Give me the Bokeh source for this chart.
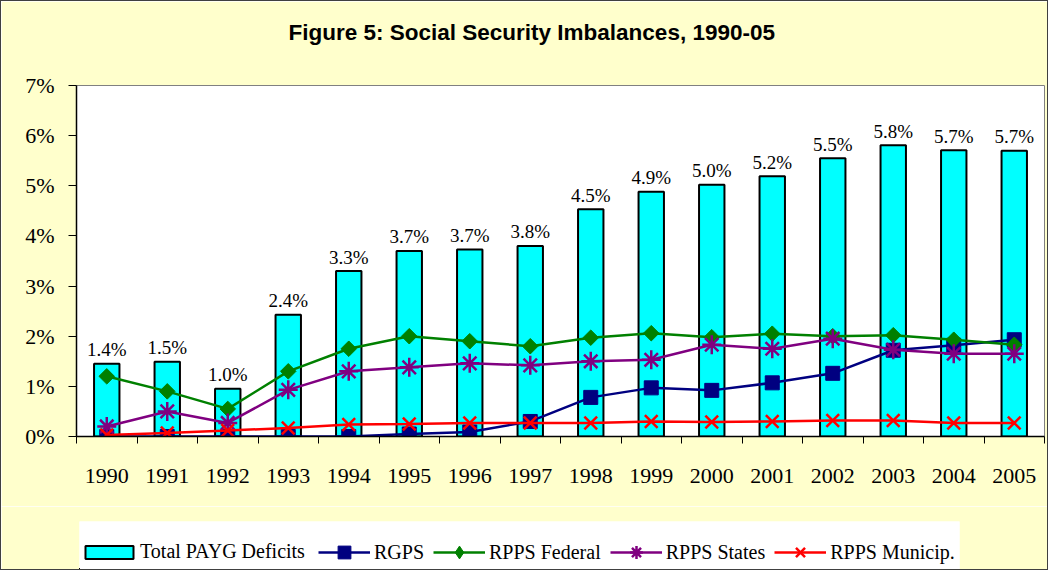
import numpy as np
from bokeh.plotting import figure
from bokeh.layouts import column
from bokeh.models import (Range1d, FixedTicker, ColumnDataSource, Legend, LegendItem, Title)
from bokeh.core.properties import value
from bokeh.embed import file_html
from bokeh.resources import INLINE

years = ["1990", "1991", "1992", "1993", "1994", "1995", "1996", "1997",
         "1998", "1999", "2000", "2001", "2002", "2003", "2004", "2005"]
total_payg = [1.45, 1.49, 0.95, 2.43, 3.30, 3.70, 3.73, 3.80,
              4.53, 4.88, 5.02, 5.19, 5.55, 5.81, 5.71, 5.70]
total_labels = ["1.4%", "1.5%", "1.0%", "2.4%", "3.3%", "3.7%", "3.7%", "3.8%",
                "4.5%", "4.9%", "5.0%", "5.2%", "5.5%", "5.8%", "5.7%", "5.7%"]
rgps = [0.00, 0.00, 0.00, 0.00, 0.00, 0.05, 0.09, 0.30,
        0.78, 0.97, 0.92, 1.07, 1.26, 1.72, 1.82, 1.93]
rpps_federal = [1.20, 0.90, 0.55, 1.30, 1.75, 2.00, 1.90, 1.80,
                1.97, 2.06, 1.98, 2.05, 2.00, 2.02, 1.93, 1.83]
rpps_states = [0.20, 0.50, 0.27, 0.93, 1.30, 1.38, 1.46, 1.42,
               1.50, 1.53, 1.83, 1.75, 1.95, 1.73, 1.65, 1.65]
rpps_municip = [0.03, 0.07, 0.12, 0.17, 0.24, 0.25, 0.27, 0.27,
                0.27, 0.30, 0.29, 0.30, 0.32, 0.32, 0.27, 0.27]
y_ticks = [0, 1, 2, 3, 4, 5, 6, 7]

x = np.arange(len(years)) + 0.5
src = ColumnDataSource(dict(x=x, total=total_payg, lab=total_labels, rgps=rgps,
                            fed=rpps_federal, states=rpps_states, mun=rpps_municip))

BG = "#FFFFCC"
W = 1046
p = figure(width=W, height=505, output_backend="svg", toolbar_location=None,
           x_range=Range1d(0, len(years)), y_range=Range1d(0, 7),
           min_border_left=75, min_border_right=3, min_border_top=84, min_border_bottom=70,
           background_fill_color="white", border_fill_color=BG)
p.frame_align = False

# spacer between the title and the plot area
p.add_layout(Title(text=" ", text_font_size="10px", standoff=28), "above")

p.title.text = "Figure 5: Social Security Imbalances, 1990-05"
p.title.align = "left"
p.title.offset = 212
p.title.text_font = "Liberation Sans"
p.title.text_font_style = "bold"
p.title.text_font_size = "22.5px"
p.title.text_color = "black"
p.title.standoff = 0

p.outline_line_color = "#808080"
p.outline_line_width = 1
p.xgrid.visible = False
p.ygrid.visible = False

# x axis: labels at centres, ticks at category boundaries
p.xaxis.ticker = FixedTicker(ticks=list(x), minor_ticks=list(np.arange(len(years) + 1)))
p.xaxis.major_label_overrides = {float(v): y for v, y in zip(x, years)}
p.xaxis.major_tick_out = 0
p.xaxis.major_tick_in = 0
p.xaxis.minor_tick_out = 7
p.xaxis.minor_tick_in = 0
p.xaxis.minor_tick_line_color = "black"
p.xaxis.major_label_standoff = 25
p.xaxis.axis_line_color = "black"
p.xaxis.axis_line_width = 1.5

p.yaxis.ticker = FixedTicker(ticks=y_ticks, minor_ticks=[])
p.yaxis.major_label_overrides = {t: f"{t}%" for t in y_ticks}
p.yaxis.major_tick_out = 8
p.yaxis.major_tick_in = 0
p.yaxis.minor_tick_out = 0
p.yaxis.minor_tick_in = 0
p.yaxis.major_label_standoff = 14
p.yaxis.axis_line_color = "black"
p.yaxis.axis_line_width = 1.5

for ax in (p.xaxis, p.yaxis):
    ax.major_label_text_font = "Liberation Serif"
    ax.major_label_text_font_size = "22px"
    ax.major_label_text_color = "black"

bar_style = dict(fill_color="#00FFFF", line_color="black", line_width=2)
p.vbar(x="x", top="total", width=0.42, bottom=0, source=src, **bar_style)
p.text(x="x", y="total", text="lab", source=src, text_align="center",
       text_baseline="alphabetic", y_offset=-14,
       text_font=value("Liberation Serif"), text_font_size="19px", text_color="black")

# (column, colour, chart marker, size, angle, legend marker, legend size, name)
series = [
    ("rgps", "#000080", "square", 14, 0.0, "square", 14, "RGPS"),
    ("fed", "#008000", "square", 11, np.pi / 4, "diamond", 18, "RPPS Federal"),
    ("states", "#800080", "asterisk", 19, 0.0, "asterisk", 17, "RPPS States"),
    ("mun", "#FF0000", "x", 18, 0.0, "x", 16, "RPPS Municip."),
]


def draw_series(fig, col, color, marker, size, angle):
    ln = fig.line(x="x", y=col, source=src, line_color=color, line_width=2.5)
    if marker in ("square", "diamond"):
        sc = fig.scatter(x="x", y=col, source=src, marker=marker, size=size,
                         angle=angle, fill_color=color, line_color=color)
    else:
        sc = fig.scatter(x="x", y=col, source=src, marker=marker, size=size,
                         angle=angle, line_color=color, line_width=2.5)
    return ln, sc


for col, color, marker, size, angle, _lm, _ls, name in series:
    draw_series(p, col, color, marker, size, angle)

# legend strip: a second figure whose white frame is the legend box
# (its copies of the renderers lie far outside its visible range; they only feed the legend)
p2 = figure(width=W, height=63, output_backend="svg", toolbar_location=None,
            x_range=Range1d(500, 501), y_range=Range1d(500, 501),
            min_border_left=78, min_border_right=88, min_border_top=15, min_border_bottom=0,
            background_fill_color="white", border_fill_color=BG)
p2.frame_align = False
p2.outline_line_color = None
p2.xaxis.visible = False
p2.yaxis.visible = False
p2.xgrid.visible = False
p2.ygrid.visible = False

bar_r = p2.vbar(x="x", top="total", width=0.42, bottom=0, source=src, **bar_style)
line_items = []
for col, color, _m, _s, _a, lmarker, lsize, name in series:
    ln, sc = draw_series(p2, col, color, lmarker, lsize, 0.0)
    line_items.append(LegendItem(label=name, renderers=[ln, sc]))

common = dict(orientation="horizontal", background_fill_alpha=0, border_line_color=None,
              spacing=9, margin=0,
              label_text_font="Liberation Serif", label_text_font_size="20px",
              label_text_color="black")
legA = Legend(items=[LegendItem(label="Total PAYG Deficits", renderers=[bar_r])],
              location=(0, 6), glyph_width=60, glyph_height=16, padding=0,
              label_standoff=1, **common)
legB = Legend(items=line_items, location=(239, 1), glyph_width=52, glyph_height=32,
              padding=6, label_standoff=4, **common)
p2.add_layout(legA, "center")
p2.add_layout(legB, "center")

layout = column(p, p2, spacing=0)
layout.styles = {"border": "1px solid #404040"}

open("out.html", "w").write(file_html(layout, INLINE))
